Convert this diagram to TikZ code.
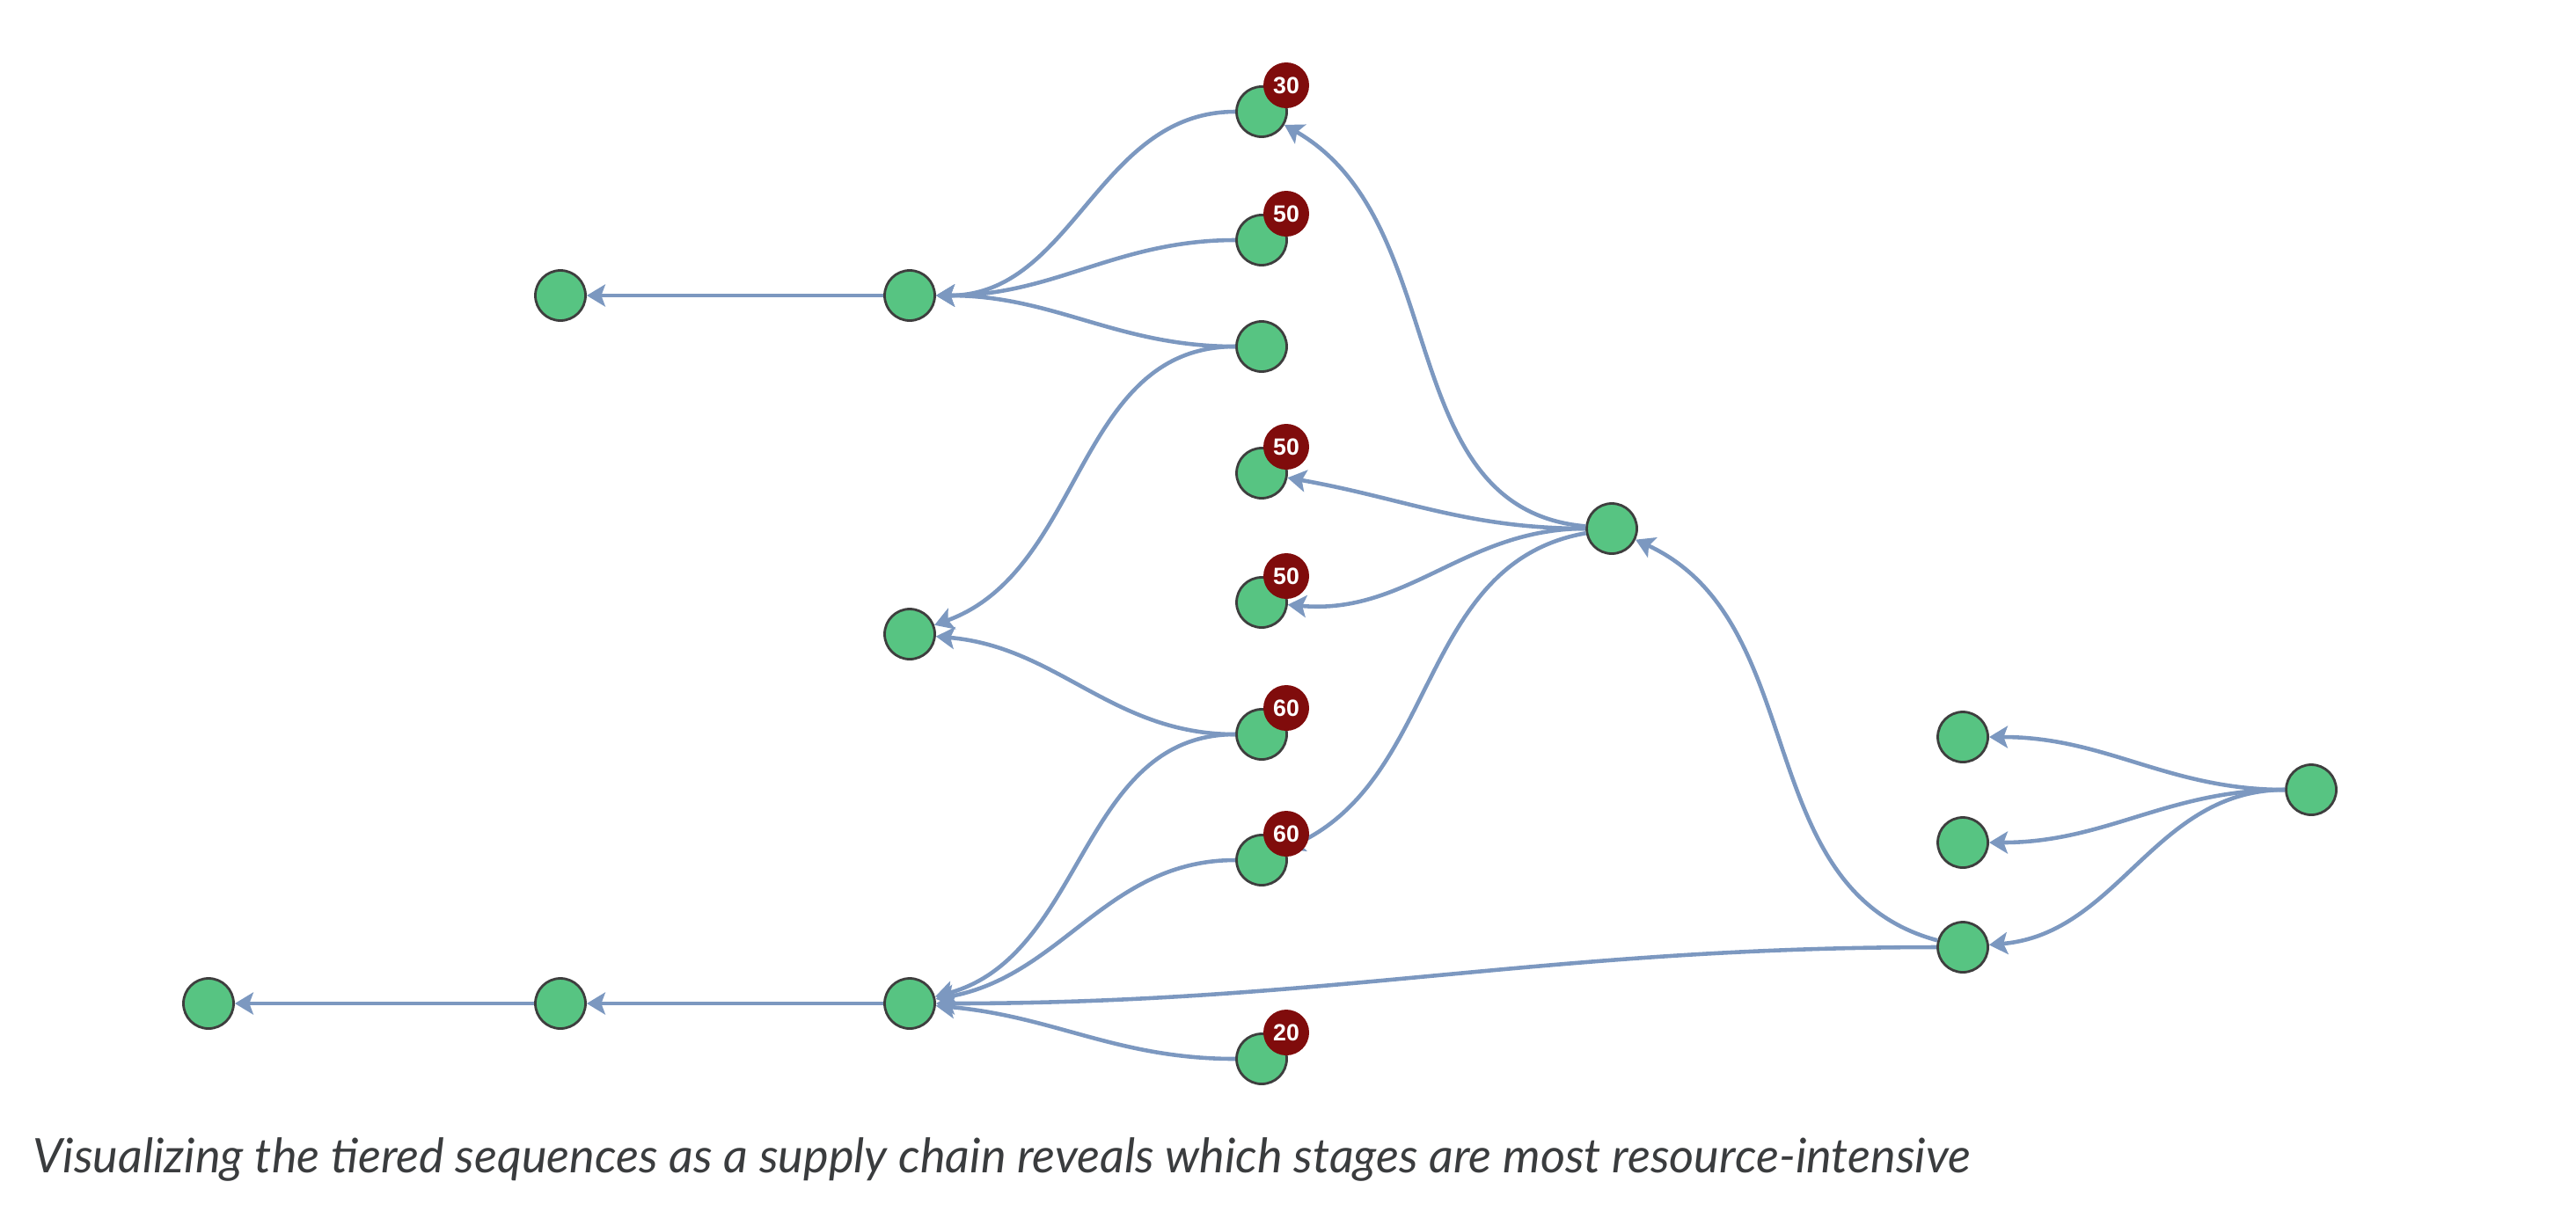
\documentclass[tikz,border=0pt]{standalone}
\usepackage{fontspec}
\setmainfont{Lato}
\newfontfamily\badgefont{Liberation Sans}
\usetikzlibrary{arrows.meta,positioning}
\definecolor{stagegreen}{RGB}{87,196,130}
\definecolor{stageline}{RGB}{62,62,62}
\definecolor{flowblue}{RGB}{124,152,192}
\definecolor{costred}{RGB}{128,12,12}
\definecolor{captiongray}{RGB}{58,60,62}
\tikzset{
  stage/.style={circle, draw=stageline, fill=stagegreen, line width=0.8pt,
               minimum size=5.7mm, inner sep=0pt},
  cost/.style={circle, fill=costred, text=white, minimum size=5.2mm, inner sep=0pt,
               font=\badgefont\fontsize{7.6}{8}\selectfont\bfseries},
  flow/.style={-{Stealth[length=2.1mm,width=2.5mm,inset=0.45mm]}, line width=1.3pt, draw=flowblue},
}
\begin{document}
\begin{tikzpicture}
    \useasboundingbox (0,0) rectangle (29.28,-13.76);
    % stages
    \node[stage] (top1) at (6.37,-3.36) {};
    \node[stage] (top2) at (10.34,-3.36) {};
    \node[stage] (mid2) at (10.34,-7.21) {};
    \node[stage] (bot1) at (2.37,-11.41) {};
    \node[stage] (bot2) at (6.37,-11.41) {};
    \node[stage] (bot3) at (10.34,-11.41) {};
    \node[stage] (s30) at (14.34,-1.27) {};
    \node[stage] (s50a) at (14.34,-2.73) {};
    \node[stage] (sC) at (14.34,-3.94) {};
    \node[stage] (s50b) at (14.34,-5.38) {};
    \node[stage] (s50c) at (14.34,-6.85) {};
    \node[stage] (s60a) at (14.34,-8.35) {};
    \node[stage] (s60b) at (14.34,-9.78) {};
    \node[stage] (s20) at (14.34,-12.04) {};
    \node[stage] (hub) at (18.32,-6.01) {};
    \node[stage] (r1) at (22.31,-8.38) {};
    \node[stage] (r2) at (22.31,-9.58) {};
    \node[stage] (r3) at (22.31,-10.77) {};
    \node[stage] (src) at (26.27,-8.98) {};
    % flows
    \draw[flow] (top2) -- (top1);
    \draw[flow] (bot3) -- (bot2);\draw[flow] (bot2) -- (bot1);
    \draw[flow] (s30) to[out=180,in=0] (top2);
    \draw[flow] (s50a) to[out=180,in=0] (top2);
    \draw[flow] (sC) to[out=180,in=0] (top2);
    \draw[flow] (sC) to[out=180,in=20] (mid2);
    \draw[flow] (s60a) to[out=180,in=-5] (mid2);
    \draw[flow] (s60a) to[out=180,in=15] (bot3);
    \draw[flow] (s60b) to[out=180,in=10] (bot3);
    \draw[flow] (s20) to[out=180,in=-5] (bot3);
    \draw[flow] (r3) to[out=180,in=0] (bot3);
    \draw[flow] (hub) to[out=175,in=-30] (s30);
    \draw[flow] (hub) to[out=180,in=-10] (s50b);
    \draw[flow] (hub) to[out=180,in=-5] (s50c);
    \draw[flow] (hub) to[out=190,in=25] (s60b);
    \draw[flow] (r3) to[out=165,in=-25] (hub);
    \draw[flow] (src) to[out=180,in=0] (r1);
    \draw[flow] (src) to[out=180,in=0] (r2);
    \draw[flow] (src) to[out=180,in=5] (r3);
    % costs
    \node[cost] (c30) at ([shift={(0.28,0.30)}]s30.center) {30};
    \node[cost] (c50a) at ([shift={(0.28,0.30)}]s50a.center) {50};
    \node[cost] (c50b) at ([shift={(0.28,0.30)}]s50b.center) {50};
    \node[cost] (c50c) at ([shift={(0.28,0.30)}]s50c.center) {50};
    \node[cost] (c60a) at ([shift={(0.28,0.30)}]s60a.center) {60};
    \node[cost] (c60b) at ([shift={(0.28,0.30)}]s60b.center) {60};
    \node[cost] (c20) at ([shift={(0.28,0.30)}]s20.center) {20};
    \node[anchor=base west, inner sep=0pt, text=captiongray, font=\fontsize{15.4}{18}\selectfont\itshape]
      (caption) at (0.37,-13.33) {Visualizing the tiered sequences as a supply chain reveals which stages are most resource-intensive};
\end{tikzpicture}
\end{document}
